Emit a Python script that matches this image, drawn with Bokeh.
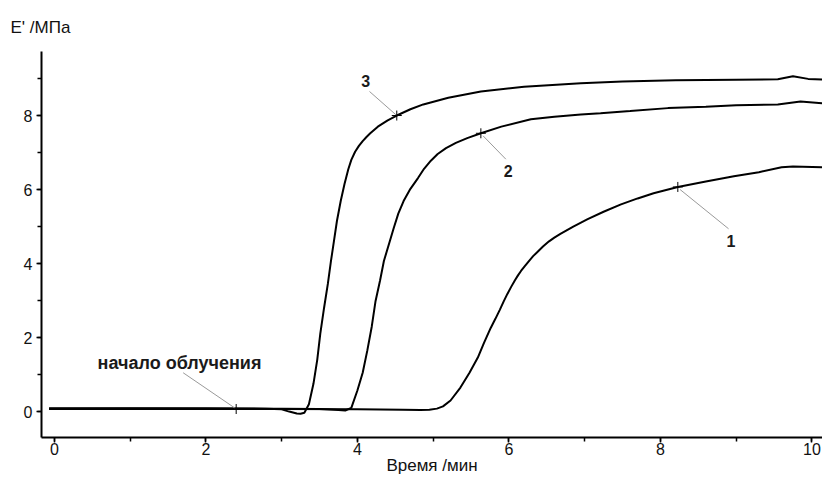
from bokeh.plotting import figure
from bokeh.models import Range1d, SingleIntervalTicker
from bokeh.core.properties import value
from bokeh.embed import file_html
from bokeh.resources import INLINE

# ---- data ----
t1 = [-0.07, 1.0, 2.0, 3.0, 4.0, 4.6, 4.83, 4.95, 5.05, 5.13, 5.23, 5.36, 5.48, 5.59, 5.67,
      5.76, 5.82, 5.88, 5.93, 5.98, 6.03, 6.08, 6.12, 6.16, 6.21, 6.27, 6.32, 6.38, 6.45,
      6.53, 6.6, 6.68, 6.85, 7.04, 7.25, 7.48, 7.7, 7.91, 8.23, 8.6, 8.97, 9.3, 9.6, 9.75,
      10.14]
e1 = [0.07, 0.08, 0.07, 0.07, 0.06, 0.05, 0.04, 0.05, 0.08, 0.14, 0.3, 0.65, 1.05, 1.46, 1.85,
      2.26, 2.5, 2.75, 2.97, 3.18, 3.37, 3.55, 3.68, 3.8, 3.93, 4.08, 4.2, 4.32, 4.46,
      4.6, 4.7, 4.8, 5.0, 5.2, 5.4, 5.6, 5.76, 5.9, 6.07, 6.22, 6.36, 6.47, 6.6, 6.62,
      6.6]

t2 = [-0.07, 1.0, 2.0, 3.0, 3.5, 3.75, 3.84, 3.92, 4.0, 4.07, 4.13, 4.19, 4.24, 4.3, 4.35,
      4.42, 4.48, 4.54, 4.61, 4.7, 4.80, 4.88, 4.97, 5.06, 5.17, 5.3, 5.45, 5.63, 5.9, 6.29,
      6.6, 6.95, 7.21, 7.6, 8.1, 8.6, 9.0, 9.55, 9.85, 10.14]
e2 = [0.08, 0.08, 0.08, 0.08, 0.07, 0.04, 0.03, 0.1, 0.57, 1.05, 1.64, 2.3, 2.99, 3.55, 4.07,
      4.55, 4.96, 5.35, 5.69, 6.02, 6.31, 6.56, 6.78, 6.96, 7.12, 7.26, 7.39, 7.52, 7.7, 7.9,
      7.97, 8.03, 8.06, 8.12, 8.2, 8.24, 8.28, 8.3, 8.38, 8.33]

t3 = [-0.07, 1.0, 2.0, 2.8, 3.0, 3.1, 3.2, 3.25, 3.3, 3.36, 3.42, 3.47, 3.51, 3.56, 3.61,
      3.65, 3.69, 3.73, 3.78, 3.83, 3.88, 3.92, 3.97, 4.02, 4.07, 4.12, 4.17, 4.27, 4.4,
      4.52, 4.7, 4.87, 5.2, 5.63, 6.2, 6.95, 7.5, 8.2, 9.0, 9.55, 9.75, 9.95, 10.14]
e3 = [0.09, 0.09, 0.09, 0.08, 0.06, 0.0, -0.05, -0.06, -0.03, 0.2, 0.75, 1.4, 2.1, 2.8, 3.45,
      4.05, 4.6, 5.15, 5.69, 6.15, 6.55, 6.8, 7.02, 7.18, 7.31, 7.42, 7.52, 7.7, 7.87,
      8.0, 8.17, 8.3, 8.48, 8.65, 8.78, 8.87, 8.92, 8.95, 8.97, 8.98, 9.06, 8.99, 8.97]

# annotations: label text, label position, marker position, leader line
ann_text = ["3", "2", "1", "начало облучения"]
ann_lx = [4.11, 5.99, 8.93, 0.57]
ann_ly = [8.92, 6.50, 4.61, 1.32]
ann_mx = [4.52, 5.63, 8.23, 2.40]
ann_my = [8.00, 7.52, 6.07, 0.07]
lead_x0 = [4.16, 5.66, 8.26, 1.70]
lead_y0 = [8.65, 7.45, 6.00, 1.05]
lead_x1 = [4.52, 5.96, 8.90, 2.38]
lead_y1 = [8.00, 6.82, 4.94, 0.10]

x_title = "Время /мин"
y_title = "E' /МПа"

FONT = "Liberation Sans"
TXT = "#111111"

p = figure(width=822, height=478, output_backend="svg", toolbar_location=None,
           x_range=Range1d(-0.17, 10.14), y_range=Range1d(-0.70, 9.73),
           min_border_left=41, min_border_right=0, min_border_top=50, min_border_bottom=41)
p.outline_line_color = None
p.xgrid.visible = False
p.ygrid.visible = False
p.background_fill_color = "white"

p.title.text = y_title
p.title.text_font = FONT
p.title.text_font_size = "17px"
p.title.text_font_style = "normal"
p.title.align = "left"
p.title.offset = -31
p.title.standoff = 30
p.title.text_color = TXT

for ax in (p.xaxis[0], p.yaxis[0]):
    ax.ticker = SingleIntervalTicker(interval=2, num_minor_ticks=2)
    ax.axis_line_width = 2
    ax.axis_line_color = "black"
    ax.major_tick_out = 5
    ax.major_tick_in = 0
    ax.minor_tick_out = 4
    ax.minor_tick_in = 0
    ax.major_tick_line_width = 1.5
    ax.minor_tick_line_width = 1.5
    ax.major_label_text_font = FONT
    ax.major_label_text_font_size = "16px"
    ax.major_label_text_color = TXT

p.xaxis.axis_label = x_title
p.xaxis.axis_label_text_font = FONT
p.xaxis.axis_label_text_font_size = "17px"
p.xaxis.axis_label_text_font_style = "normal"
p.xaxis.axis_label_standoff = -2
p.xaxis.axis_label_text_color = TXT
p.xaxis.major_label_standoff = 0
p.yaxis.major_label_standoff = 4

for t, e in ((t1, e1), (t2, e2), (t3, e3)):
    p.line(t, e, line_color="black", line_width=2)

p.segment(x0=lead_x0, y0=lead_y0, x1=lead_x1, y1=lead_y1, line_color="#9a9a9a", line_width=1)
p.scatter(x=ann_mx, y=ann_my, marker="cross", size=10, line_color="black", line_width=1)

p.text(x=ann_lx[:3], y=ann_ly[:3], text=ann_text[:3], text_font=value(FONT),
       text_font_size="16px", text_font_style="bold", text_align="center",
       text_baseline="middle", text_color="#1a1a1a")
p.text(x=ann_lx[3:], y=ann_ly[3:], text=ann_text[3:], text_font=value(FONT),
       text_font_size="18px", text_font_style="bold", text_align="left",
       text_baseline="middle", text_color="#1a1a1a")

open("out.html", "w").write(file_html(p, INLINE))
